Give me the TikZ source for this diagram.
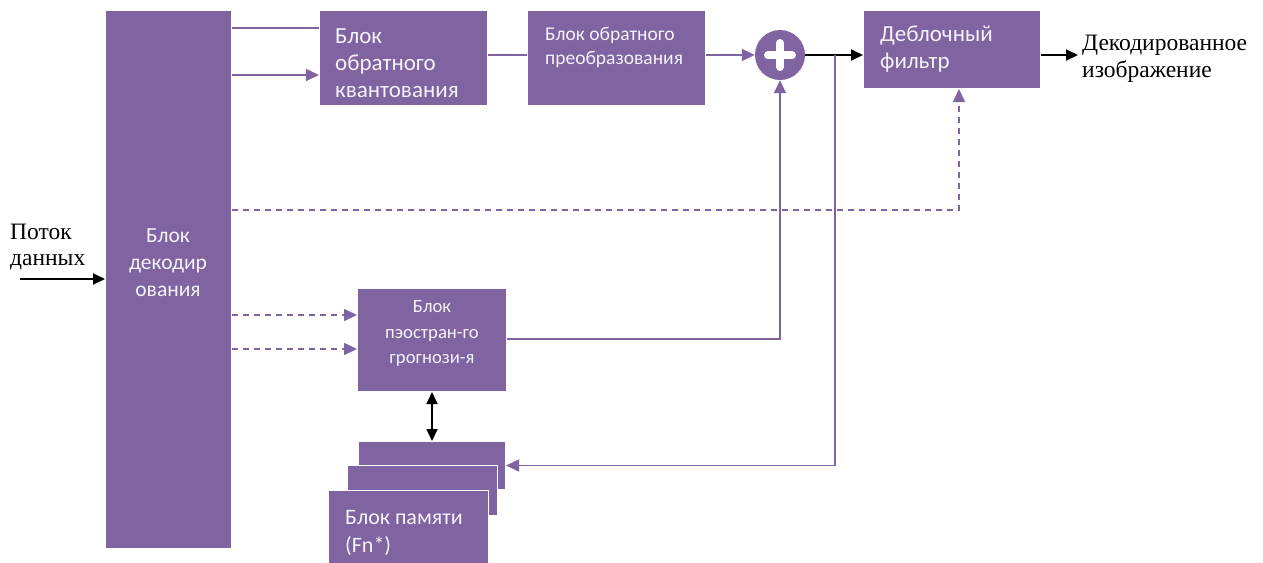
\documentclass[tikz,border=0pt]{standalone}
\usepackage{fontspec}
\setmainfont{Liberation Serif}
\newfontfamily\blockfont{Carlito}
\usetikzlibrary{arrows.meta}
\definecolor{blk}{HTML}{8064A2}
\definecolor{blktext}{HTML}{F4F2F8}

\begin{document}
\begin{tikzpicture}[x=1pt,y=-1pt,
  box/.style={fill=blk, draw=white, line width=1pt, inner sep=0pt, anchor=north west},
  lbl/.style={text=blktext, inner sep=0pt, align=left, anchor=west},
  big/.style={font=\blockfont\fontsize{23}{27}\selectfont},
  mid/.style={font=\blockfont\fontsize{19.5}{24}\selectfont},
  small/.style={font=\blockfont\fontsize{18.7}{25.5}\selectfont},
  serif/.style={font=\fontsize{23.5}{26.5}\selectfont, inner sep=0pt, align=left, anchor=west},
  pline/.style={draw=blk, line width=1.6pt},
  parrow/.style={pline, -{Triangle[length=13pt,width=12pt]}},
  pdash/.style={parrow, dash pattern=on 6pt off 5pt},
  barrow/.style={draw=black, line width=1.8pt, -{Triangle[length=12pt,width=11pt]}},
  bdouble/.style={draw=black, line width=1.8pt, {Triangle[length=12pt,width=11pt]}-{Triangle[length=12pt,width=11pt]}}
]
\useasboundingbox (0,0) rectangle (1263,562);

% decoding block
\node[box, minimum width=126pt, minimum height=538pt] (dec) at (105,10) {};
\node[lbl, font=\blockfont\fontsize{21.5}{27}\selectfont, align=center, anchor=center] (dect) at (168,263) {Блок\\декодир\\ования};

% upper chain
\node[box, minimum width=168pt, minimum height=95pt] (iq) at (319,10) {};
\node[lbl, big] (iqt) at (335,63) {Блок\\обратного\\квантования};

\node[box, minimum width=178pt, minimum height=95pt] (it) at (527,10) {};
\node[lbl, mid] (itt) at (545,47) {Блок обратного\\преобразования};

\node[circle, fill=blk, minimum size=50pt, inner sep=0pt] (add) at (780,55) {};
\draw[white, line width=8pt, line cap=round] ([xshift=-12pt]add.center) -- ([xshift=12pt]add.center);
\draw[white, line width=8pt, line cap=round] ([yshift=-12pt]add.center) -- ([yshift=12pt]add.center);

\node[box, minimum width=177pt, minimum height=78pt] (deb) at (863,10) {};
\node[lbl, big] (debt) at (880,49) {Деблочный\\фильтр};

% prediction block
\node[box, minimum width=149pt, minimum height=103pt] (pred) at (357,288) {};
\node[lbl, small, align=center, anchor=center] (predt) at (432,334) {Блок\\пэостран-го\\грогнози-я};

% memory stack
\node[box, minimum width=147pt, minimum height=48pt] (memA) at (358,441) {};
\node[box, minimum width=150pt, minimum height=50pt] (memB) at (347,465) {};
\node[box, minimum width=160pt, minimum height=74pt] (memC) at (328,490) {};
\node[lbl, font=\blockfont\fontsize{22}{28}\selectfont] (memt) at (345,533) {Блок памяти\\(Fn*)};

% external labels
\node[serif] (inl) at (10,247) {Поток\\данных};
\node[serif] (outl) at (1082,59) {Декодированное\\изображение};
\coordinate (src) at (20,279);
\coordinate (br) at (835,55);

% connectors
\draw[barrow] (src) -- (dec.west |- src);
\draw[pline] ([yshift=-18pt]dec.north east) -- ([yshift=-18pt]iq.north west);
\draw[parrow] ([yshift=-65pt]dec.north east) -- ([yshift=-65pt]iq.north west);
\draw[pline] (iq.east |- add) -- (it.west |- add);
\draw[parrow] (it.east |- add) -- (add.west);
\draw[barrow] (add.east) -- (deb.west |- add);
\draw[barrow] (deb.east |- add) -- ([xshift=-4pt]outl.west |- add);
\draw[pdash] ([yshift=-200pt]dec.north east) -| ([xshift=7pt]deb.south);
\draw[pdash] ([yshift=-305pt]dec.north east) -- ([yshift=-27pt]pred.north west);
\draw[pdash] ([yshift=-339pt]dec.north east) -- ([yshift=-61pt]pred.north west);
\draw[parrow] ([yshift=-51pt]pred.north east) -| (add.south);
\draw[parrow] (br) |- (memA.east);
\draw[bdouble] (pred.south) -- (memA.north);
\end{tikzpicture}
\end{document}
